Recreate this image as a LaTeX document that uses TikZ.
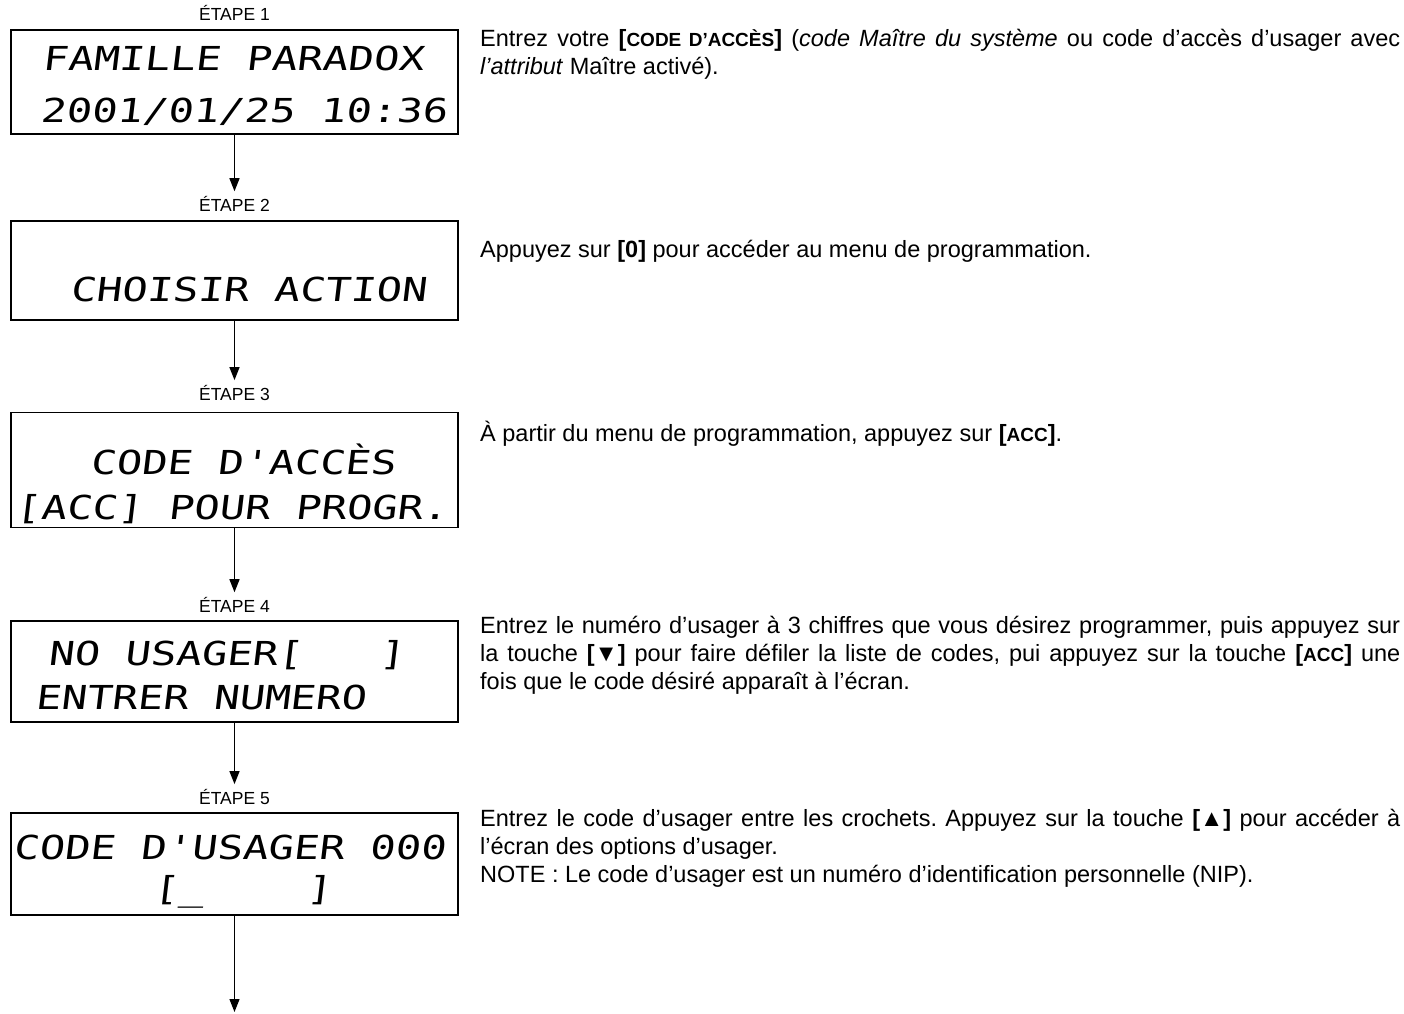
\documentclass[tikz,border=0pt]{standalone}
\usepackage{fontspec}
\setmainfont{Liberation Sans}
\newfontfamily\lcdfont[FakeSlant=0.12,FakeStretch=1.28]{DejaVu Sans Mono}
\usetikzlibrary{arrows.meta}
\newcommand{\smc}[1]{{\fontsize{19}{19}\selectfont #1}}
\frenchspacing
\begin{document}
\begin{tikzpicture}[x=1pt,y=-1pt,
  lcdbox/.style={draw, line width=1.8pt, minimum width=447pt, inner sep=0pt},
  lcd/.style={font=\lcdfont\fontsize{33}{33}\selectfont, anchor=base west, inner sep=0pt},
  steplabel/.style={font=\fontsize{17.5}{17.5}\selectfont, inner sep=1pt},
  txt/.style={font=\fontsize{23.5}{28}\selectfont\frenchspacing, anchor=base west, inner sep=0pt},
  arr/.style={line width=1.3pt, -{Triangle[width=10pt,length=13pt]}, shorten >=4pt}]
\useasboundingbox (0,0) rectangle (1404,1013);

% step labels
\node[steplabel] (e1) at (234.5,13) {ÉTAPE 1};
\node[steplabel] (e2) at (234.5,204) {ÉTAPE 2};
\node[steplabel] (e3) at (234.5,393) {ÉTAPE 3};
\node[steplabel] (e4) at (234.5,605) {ÉTAPE 4};
\node[steplabel] (e5) at (234.5,797) {ÉTAPE 5};

% LCD boxes
\node[lcdbox, minimum height=104pt] (b1) at (234.5,82) {};
\node[lcdbox, minimum height=99pt]  (b2) at (234.5,270.5) {};
\node[lcdbox, minimum height=115pt] (b3) at (234.5,470) {};
\node[lcdbox, minimum height=101pt] (b4) at (234.5,671.5) {};
\node[lcdbox, minimum height=102pt] (b5) at (234.5,864) {};

% LCD texts
\node[lcd] (l1a) at (42,70) {FAMILLE PARADOX};
\node[lcd] (l1b) at (40,122) {2001/01/25 10:36};
\node[lcd] (l2a) at (70,301) {CHOISIR ACTION};
\node[lcd] (l3a) at (90,474) {CODE D'ACCÈS};
\node[lcd] (l3b) at (15,519) {[ACC] POUR PROGR.};
\node[lcd] (l4a) at (48,665) {NO USAGER[~~~]};
\node[lcd] (l4b) at (35,709) {ENTRER NUMERO};
\node[lcd] (l5a) at (13,859) {CODE D'USAGER 000};
\node[lcd] (l5b) at (153,900) {[\_~~~~]};

% connectors
\coordinate (endpt) at (234.5,1016);
\draw[arr] (b1.south) -- (e2.north);
\draw[arr] (b2.south) -- (e3.north);
\draw[arr] (b3.south) -- (e4.north);
\draw[arr] (b4.south) -- (e5.north);
\draw[arr] (b5.south) -- (endpt);

% explanations
\node[txt] (p1a) at (480,46) {\makebox[920pt][s]{Entrez votre \textbf{[\smc{CODE D’ACCÈS}]} (\textit{code Maître du système} ou code d’accès d’usager avec}};
\node[txt] (p1b) at (480,74) {\textit{l’attribut} Maître activé).};
\node[txt] (p2) at (480,257) {Appuyez sur \textbf{[0]} pour accéder au menu de programmation.};
\node[txt] (p3) at (480,441) {À partir du menu de programmation, appuyez sur \textbf{[\smc{ACC}]}.};
\node[txt] (p4a) at (480,633) {\makebox[920pt][s]{Entrez le numéro d’usager à 3 chiffres que vous désirez programmer, puis appuyez sur}};
\node[txt] (p4b) at (480,661) {\makebox[920pt][s]{la touche \textbf{[▼]} pour faire défiler la liste de codes, pui appuyez sur la touche \textbf{[\smc{ACC}]} une}};
\node[txt] (p4c) at (480,689) {fois que le code désiré apparaît à l’écran.};
\node[txt] (p5a) at (480,826) {\makebox[920pt][s]{Entrez le code d’usager entre les crochets. Appuyez sur la touche \textbf{[▲]} pour accéder à}};
\node[txt] (p5b) at (480,854) {l’écran des options d’usager.};
\node[txt] (p5c) at (480,882) {NOTE : Le code d’usager est un numéro d’identification personnelle (NIP).};
\end{tikzpicture}
\end{document}
